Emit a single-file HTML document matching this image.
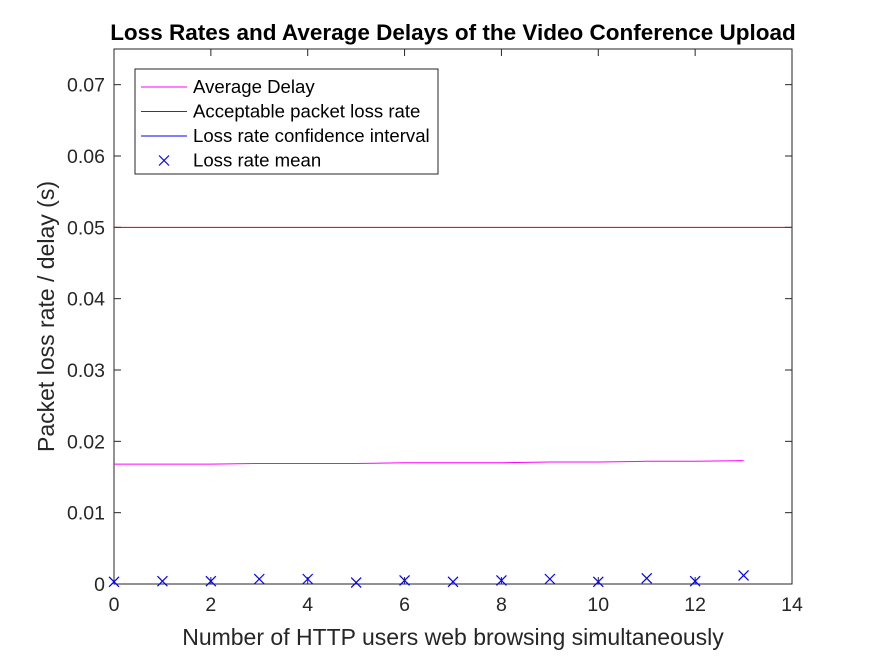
<!DOCTYPE html>
<html><head><meta charset="utf-8"><style>
body{margin:0;background:#fff;}
svg{display:block;font-family:"Liberation Sans",sans-serif;}
</style></head><body>
<svg id="chart" width="875" height="656"></svg>
<script>
const xTicks=[0,2,4,6,8,10,12,14];
const yTicks=[0,0.01,0.02,0.03,0.04,0.05,0.06,0.07];
const yTickLabels=["0","0.01","0.02","0.03","0.04","0.05","0.06","0.07"];
const users=[0,1,2,3,4,5,6,7,8,9,10,11,12,13];
const delay=[0.0168,0.0168,0.0168,0.0169,0.0169,0.0169,0.0170,0.0170,0.0170,0.0171,0.0171,0.0172,0.0172,0.0173];
const lossMean=[0.0003,0.0004,0.0004,0.0007,0.0007,0.0002,0.0005,0.0003,0.0005,0.0007,0.0003,0.0008,0.0004,0.0012];
const acceptable=0.05;
const L=114,R=792,T=49,B=584,XMAX=14,YMAX=0.075;
const sx=v=>L+v/XMAX*(R-L), sy=v=>B-v/YMAX*(B-T);
const svg=document.getElementById('chart');const NS='http://www.w3.org/2000/svg';
function mk(t,a,p){const e=document.createElementNS(NS,t);for(const k in a)e.setAttribute(k,a[k]);(p||svg).appendChild(e);return e;}
let e;
e=mk('rect',{x:L,y:T,width:R-L,height:B-T,fill:'#fff',stroke:'#262626','stroke-width':1});


xTicks.forEach(v=>{const x=sx(v);
mk('line',{x1:x,x2:x,y1:B,y2:B-7,stroke:'#262626'});mk('line',{x1:x,x2:x,y1:T,y2:T+7,stroke:'#262626'});
const t=mk('text',{x:x,y:B+27,'text-anchor':'middle','font-size':19.5,fill:'#262626'});t.textContent=v;

});
yTicks.forEach((v,i)=>{const y=sy(v);
mk('line',{x1:L,x2:L+7,y1:y,y2:y,stroke:'#262626'});mk('line',{x1:R,x2:R-7,y1:y,y2:y,stroke:'#262626'});
const t=mk('text',{x:L-9,y:y+7,'text-anchor':'end','font-size':19.5,fill:'#262626'});t.textContent=yTickLabels[i];

});
e=mk('line',{x1:L,x2:R,y1:sy(acceptable),y2:sy(acceptable),stroke:'#d00000','stroke-width':1});


e=mk('polyline',{points:users.map((u,i)=>sx(u)+','+sy(delay[i])).join(' '),fill:'none',stroke:'#ff00ff','stroke-width':1});


users.forEach((u,i)=>{const x=sx(u),y=sy(lossMean[i]);
const g=mk('path',{d:`M${x-5},${y-5}L${x+5},${y+5}M${x-5},${y+5}L${x+5},${y-5}`,stroke:'#0000ff','stroke-width':1.2,fill:'none'});

});
e=mk('text',{x:453,y:40,'text-anchor':'middle','font-size':22.5,'font-weight':'bold',fill:'#000'});e.textContent='Loss Rates and Average Delays of the Video Conference Upload';


e=mk('text',{x:453,y:645,'text-anchor':'middle','font-size':23,fill:'#262626'});e.textContent='Number of HTTP users web browsing simultaneously';


e=mk('text',{x:0,y:0,'text-anchor':'middle','font-size':23,fill:'#262626',transform:`translate(54,${(T+B)/2}) rotate(-90)`});e.textContent='Packet loss rate / delay (s)';


const lg=mk('g',{});


mk('rect',{x:135,y:69,width:303,height:105,fill:'#fff',stroke:'#262626'},lg);
const items=[['Average Delay','#ff00ff','line'],['Acceptable packet loss rate','#d00000','line'],['Loss rate confidence interval','#0000ff','line'],['Loss rate mean','#0000ff','x']];
items.forEach((it,i)=>{const y=87+i*24.5;
if(it[2]==='line')mk('line',{x1:141,x2:187,y1:y,y2:y,stroke:it[1]},lg);
else mk('path',{d:`M${164-5},${y-5}L${164+5},${y+5}M${164-5},${y+5}L${164+5},${y-5}`,stroke:it[1],'stroke-width':1.2},lg);
const t=mk('text',{x:193,y:y+6,'font-size':18.6,fill:'#000'},lg);t.textContent=it[0];

});
</script>
</body></html>
